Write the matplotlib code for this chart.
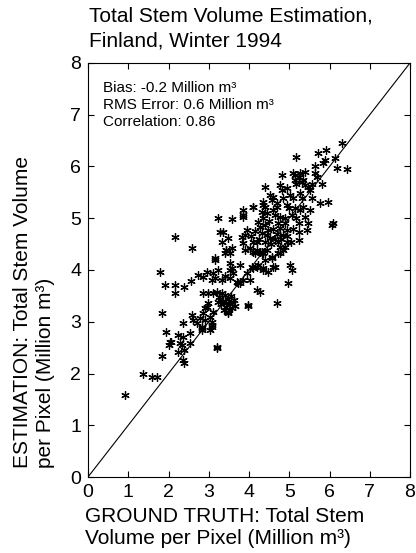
import matplotlib
matplotlib.use("Agg")
import matplotlib.pyplot as plt

plt.rcParams['font.family'] = ['Liberation Sans', 'DejaVu Sans']

# Ground truth (x) and estimation (y), million m^3 per pixel
truth = [0.92,1.37,1.58,1.71,1.83,2.00,2.05,1.95,2.24,2.37,2.53,2.33,2.24,2.39,2.53,2.37,2.39,2.82,2.04,2.29,
         2.37,2.58,2.62,2.70,2.78,2.82,2.91,2.99,3.07,3.03,3.20,1.83,1.79,1.91,2.16,2.16,2.39,2.56,2.16,2.58,
         2.74,2.86,2.95,3.11,3.24,3.07,3.16,3.32,3.40,3.53,3.16,3.44,3.53,3.57,3.78,3.73,3.86,3.94,2.86,2.99,
         3.11,3.20,3.49,3.98,2.95,2.86,2.91,3.03,3.11,3.07,2.82,3.07,3.40,3.53,3.90,4.15,4.32,4.56,4.77,5.02,
         5.06,4.98,4.65,4.48,4.36,4.23,4.11,4.02,4.19,4.27,3.78,3.69,3.61,3.53,4.69,3.20,
         3.26,3.36,3.42,3.47,3.52,3.58,3.38,3.30,3.48,3.40,3.62,3.33,3.55,3.22,3.66,3.44,
         4.40,4.77,4.94,5.18,5.35,5.39,5.56,5.52,5.81,4.52,4.60,4.56,4.85,5.02,5.10,5.27,5.31,5.56,5.76,5.97,
         4.09,4.36,4.32,4.44,4.36,4.69,4.94,5.14,5.27,5.35,5.52,4.65,4.77,4.89,5.06,5.18,5.39,4.23,4.27,4.40,
         4.48,4.32,4.44,4.52,4.73,4.77,4.94,4.85,5.23,5.23,5.47,5.43,6.08,5.23,4.19,4.40,4.73,4.77,4.85,4.73,
         4.94,4.89,4.11,4.27,4.36,4.40,4.19,4.07,4.36,4.60,6.30,5.18,5.72,5.91,6.14,5.64,5.85,5.89,6.18,6.43,
         5.39,5.64,5.68,5.10,5.14,5.23,5.31,5.47,6.05,4.81,5.14,5.27,4.81,3.86,3.86,4.11,4.36,4.40,3.24,3.57,
         3.28,3.36,3.32,3.49,3.44,3.57,3.94,3.90,3.82,3.86,4.11,4.02,4.56,3.16,4.19,4.32,4.44,3.84,3.98,
         4.50,4.60,4.70,4.55,4.65,4.80,4.95,5.05,5.10,4.90,4.60,4.70,5.00,4.25,4.15,4.05]
estimate = [1.58,2.00,1.94,1.94,2.34,2.55,2.60,2.81,2.74,2.71,2.78,2.55,2.42,2.45,2.58,2.26,2.20,2.84,2.61,2.58,
            2.98,3.13,3.03,2.97,3.07,2.90,3.26,3.36,2.94,2.84,2.49,3.17,3.97,3.71,3.71,3.55,3.68,3.79,4.64,4.42,
            3.90,3.87,3.97,3.94,4.00,3.81,3.84,3.81,3.88,3.84,4.19,4.39,4.13,4.03,4.10,3.74,3.81,3.94,3.55,3.55,
            3.55,3.58,3.16,3.32,3.29,3.16,3.03,3.10,3.19,3.00,2.87,2.90,4.33,4.33,4.39,4.33,4.33,4.26,4.33,4.10,
            4.00,3.75,4.06,3.97,4.00,4.10,4.03,3.81,3.61,3.58,3.74,3.77,3.94,4.00,3.36,2.52,
            3.47,3.41,3.28,3.44,3.35,3.26,3.22,3.34,3.18,3.52,3.42,3.55,3.50,3.38,3.30,3.36,
            5.61,5.64,5.58,5.67,5.74,5.64,5.67,5.55,5.67,5.45,5.42,5.36,5.39,5.45,5.39,5.48,5.39,5.39,5.29,5.32,
            5.22,5.26,5.13,5.10,5.00,5.22,5.26,5.19,5.16,5.22,5.16,5.06,5.03,5.00,5.06,5.00,5.03,4.93,4.84,4.87,
            4.77,4.71,4.68,4.61,4.90,4.81,4.77,4.68,4.90,4.74,4.90,4.77,4.90,4.58,4.55,4.55,4.55,4.45,4.39,4.32,
            4.55,4.45,4.35,4.35,4.32,4.19,4.06,4.06,4.03,4.06,6.46,6.19,6.27,6.32,6.16,6.01,6.06,6.13,5.97,5.95,
            5.90,5.87,5.80,5.87,5.74,5.80,5.71,5.61,4.87,5.84,5.84,5.87,5.55,5.16,5.06,5.22,5.32,5.22,5.00,4.98,
            4.74,4.74,4.55,4.61,4.39,4.42,4.77,4.68,4.64,4.52,4.55,4.42,4.23,4.23,4.39,4.35,4.39,5.03,3.30,
            4.95,4.80,4.70,4.50,4.60,4.60,4.65,4.55,4.80,4.90,5.15,5.30,5.20,4.60,4.75,4.65]

ticks = list(range(0, 9))
stats_lines = ["Bias: -0.2 Million m\u00b3", "RMS Error: 0.6 Million m\u00b3", "Correlation: 0.86"]

W, H = 416, 553
fig = plt.figure(figsize=(W / 100, H / 100), dpi=100)
L, R, T, B = 88, 410, 63, 477
ax = fig.add_axes([L / W, 1 - B / H, (R - L) / W, (B - T) / H])

ax.plot([0, 8], [0, 8], color='black', linewidth=0.8)
ax.plot(truth, estimate, linestyle='none', marker=(6, 2, 0), markersize=6,
        markeredgewidth=0.9, color='black')

ax.set_xlim(0, 8)
ax.set_ylim(0, 8)
ax.set_xticks(ticks)
ax.set_yticks(ticks)
ax.tick_params(direction='in', length=4, width=0.8, top=True, right=True,
               labelsize=14, pad=5)
for s in ax.spines.values():
    s.set_linewidth(0.8)

for i, t in enumerate(stats_lines):
    fig.text(103 / W, 1 - (88 + 17 * i) / H, t, fontsize=11, va='center', ha='left')

fig.text(89 / W, 1 - 22 / H, "Total Stem Volume Estimation,", fontsize=15, va='baseline', ha='left')
fig.text(89 / W, 1 - 47 / H, "Finland, Winter 1994", fontsize=15, va='baseline', ha='left')

fig.text(85 / W, 1 - 522 / H, "GROUND TRUTH: Total Stem", fontsize=15, va='baseline', ha='left')
fig.text(85 / W, 1 - 544 / H, "Volume per Pixel (Million m\u00b3)", fontsize=15, va='baseline', ha='left')

fig.text(28 / W, 1 - 468 / H, "ESTIMATION: Total Stem Volume", fontsize=15, rotation=90,
         rotation_mode='anchor', ha='left', va='baseline')
fig.text(51 / W, 1 - 468 / H, "per Pixel (Million m\u00b3)", fontsize=15, rotation=90,
         rotation_mode='anchor', ha='left', va='baseline')

fig.savefig("out.png", dpi=100)
